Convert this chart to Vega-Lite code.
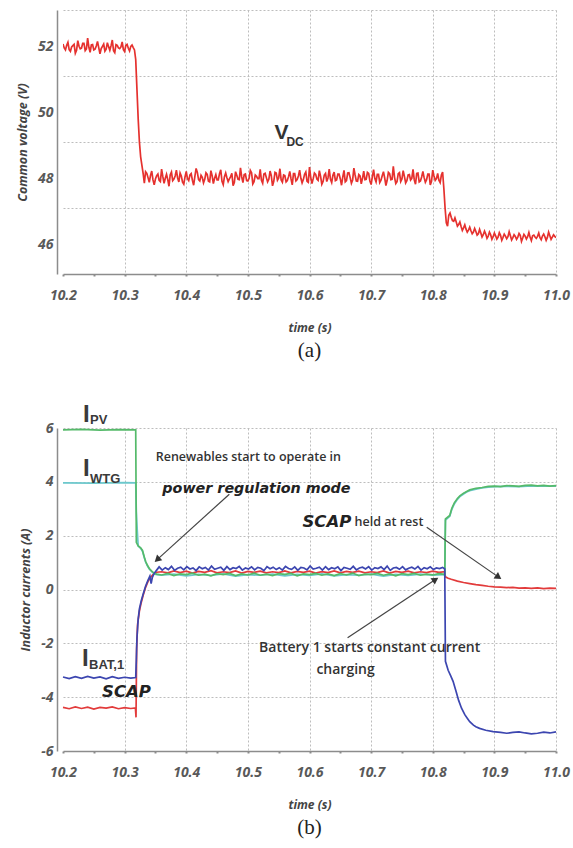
{
"$schema": "https://vega.github.io/schema/vega-lite/v6.json",
"background": "white",
"padding": {"left": 16, "top": 10, "right": 4, "bottom": 4},
"bounds": "flush",
"spacing": 154,
"config": {"view": {"stroke": null}},
"datasets": {
"vdc": [
{"t":10.200,"v":51.97},{"t":10.204,"v":51.79},{"t":10.208,"v":52.02},{"t":10.212,"v":51.75},{"t":10.216,"v":51.92},{"t":10.220,"v":51.69},{"t":10.224,"v":52.07},{"t":10.228,"v":51.82},{"t":10.232,"v":51.99},{"t":10.236,"v":51.77},{"t":10.240,"v":52.15},{"t":10.244,"v":51.72},{"t":10.248,"v":51.95},{"t":10.252,"v":51.81},{"t":10.256,"v":52.05},{"t":10.260,"v":51.67},{"t":10.264,"v":51.90},{"t":10.268,"v":51.75},{"t":10.272,"v":52.01},{"t":10.276,"v":51.78},{"t":10.280,"v":52.09},{"t":10.284,"v":51.71},{"t":10.288,"v":51.93},{"t":10.292,"v":51.83},{"t":10.296,"v":52.03},{"t":10.300,"v":51.74},{"t":10.304,"v":51.96},{"t":10.308,"v":51.76},{"t":10.312,"v":51.94},{"t":10.316,"v":51.79},
{"t":10.202,"v":51.85},{"t":10.206,"v":51.93},{"t":10.210,"v":51.80},{"t":10.214,"v":51.88},{"t":10.218,"v":51.96},{"t":10.222,"v":51.78},{"t":10.226,"v":51.90},{"t":10.230,"v":51.84},{"t":10.234,"v":51.99},{"t":10.238,"v":51.82},{"t":10.242,"v":51.87},{"t":10.246,"v":51.94},{"t":10.250,"v":51.79},{"t":10.254,"v":51.91},{"t":10.258,"v":51.86},{"t":10.262,"v":51.83},{"t":10.266,"v":51.97},{"t":10.270,"v":51.81},{"t":10.274,"v":51.89},{"t":10.278,"v":51.92},{"t":10.282,"v":51.77},{"t":10.286,"v":51.95},{"t":10.290,"v":51.85},{"t":10.294,"v":51.88},{"t":10.298,"v":51.80},{"t":10.302,"v":51.93},{"t":10.306,"v":51.84},{"t":10.310,"v":51.90},{"t":10.314,"v":51.86},
{"t":10.318,"v":51.5},{"t":10.320,"v":50.6},{"t":10.322,"v":49.7},{"t":10.324,"v":49.0},{"t":10.326,"v":48.55},{"t":10.328,"v":48.3},{"t":10.330,"v":48.05},{"t":10.332,"v":47.75},{"t":10.334,"v":48.1},
{"t":10.336,"v":48.05},{"t":10.340,"v":47.78},{"t":10.344,"v":48.12},{"t":10.348,"v":47.70},{"t":10.352,"v":47.98},{"t":10.356,"v":47.84},{"t":10.360,"v":48.18},{"t":10.364,"v":47.75},{"t":10.368,"v":48.02},{"t":10.372,"v":47.66},{"t":10.376,"v":48.09},{"t":10.380,"v":47.88},{"t":10.384,"v":48.15},{"t":10.388,"v":47.79},{"t":10.392,"v":47.97},{"t":10.396,"v":47.72},{"t":10.400,"v":48.11},{"t":10.404,"v":47.83},{"t":10.408,"v":48.04},{"t":10.412,"v":47.69},{"t":10.416,"v":48.20},{"t":10.420,"v":47.86},{"t":10.424,"v":47.99},{"t":10.428,"v":47.76},{"t":10.432,"v":48.07},{"t":10.436,"v":47.81},{"t":10.440,"v":48.13},{"t":10.444,"v":47.74},{"t":10.448,"v":48.01},{"t":10.452,"v":47.85},{"t":10.456,"v":48.16},{"t":10.460,"v":47.71},{"t":10.464,"v":48.06},{"t":10.468,"v":47.80},{"t":10.472,"v":47.95},{"t":10.476,"v":47.68},{"t":10.480,"v":48.10},{"t":10.484,"v":47.87},{"t":10.488,"v":48.22},{"t":10.492,"v":47.77},{"t":10.496,"v":48.03},{"t":10.500,"v":47.82},{"t":10.504,"v":48.14},{"t":10.508,"v":47.73},{"t":10.512,"v":48.00},{"t":10.516,"v":47.89},{"t":10.520,"v":48.17},{"t":10.524,"v":47.75},{"t":10.528,"v":48.05},{"t":10.532,"v":47.79},{"t":10.536,"v":48.12},{"t":10.540,"v":47.67},{"t":10.544,"v":48.08},{"t":10.548,"v":47.84},{"t":10.552,"v":48.19},{"t":10.556,"v":47.78},{"t":10.560,"v":47.98},{"t":10.564,"v":47.83},{"t":10.568,"v":48.11},{"t":10.572,"v":47.70},{"t":10.576,"v":48.04},{"t":10.580,"v":47.86},{"t":10.584,"v":48.15},{"t":10.588,"v":47.76},{"t":10.592,"v":48.02},{"t":10.596,"v":47.81},{"t":10.600,"v":48.24},{"t":10.604,"v":47.74},{"t":10.608,"v":48.06},{"t":10.612,"v":47.88},{"t":10.616,"v":48.13},{"t":10.620,"v":47.72},{"t":10.624,"v":48.00},{"t":10.628,"v":47.80},{"t":10.632,"v":48.18},{"t":10.636,"v":47.77},{"t":10.640,"v":48.09},{"t":10.644,"v":47.85},{"t":10.648,"v":48.03},{"t":10.652,"v":47.69},{"t":10.656,"v":48.14},{"t":10.660,"v":47.83},{"t":10.664,"v":48.07},{"t":10.668,"v":47.75},{"t":10.672,"v":48.21},{"t":10.676,"v":47.82},{"t":10.680,"v":48.01},{"t":10.684,"v":47.73},{"t":10.688,"v":48.12},{"t":10.692,"v":47.87},{"t":10.696,"v":48.05},{"t":10.700,"v":47.71},{"t":10.704,"v":48.16},{"t":10.708,"v":47.79},{"t":10.712,"v":48.02},{"t":10.716,"v":47.84},{"t":10.720,"v":48.10},{"t":10.724,"v":47.68},{"t":10.728,"v":48.08},{"t":10.732,"v":47.86},{"t":10.736,"v":48.26},{"t":10.740,"v":47.74},{"t":10.744,"v":48.04},{"t":10.748,"v":47.80},{"t":10.752,"v":48.13},{"t":10.756,"v":47.76},{"t":10.760,"v":48.00},{"t":10.764,"v":47.85},{"t":10.768,"v":48.17},{"t":10.772,"v":47.72},{"t":10.776,"v":48.06},{"t":10.780,"v":47.82},{"t":10.784,"v":48.11},{"t":10.788,"v":47.78},{"t":10.792,"v":48.03},{"t":10.796,"v":47.70},{"t":10.800,"v":48.15},{"t":10.804,"v":47.84},{"t":10.808,"v":48.05},{"t":10.812,"v":47.77},{"t":10.816,"v":48.09},
{"t":10.338,"v":47.92},{"t":10.342,"v":47.99},{"t":10.346,"v":47.85},{"t":10.350,"v":47.88},{"t":10.354,"v":48.03},{"t":10.358,"v":47.80},{"t":10.362,"v":47.95},{"t":10.366,"v":47.90},{"t":10.370,"v":47.86},{"t":10.374,"v":48.01},{"t":10.378,"v":47.83},{"t":10.382,"v":47.97},{"t":10.386,"v":47.91},{"t":10.390,"v":48.06},{"t":10.394,"v":47.78},{"t":10.398,"v":47.94},{"t":10.402,"v":47.89},{"t":10.406,"v":48.00},{"t":10.410,"v":47.84},{"t":10.414,"v":47.96},{"t":10.418,"v":48.08},{"t":10.422,"v":47.82},{"t":10.426,"v":47.93},{"t":10.430,"v":47.87},{"t":10.434,"v":48.02},{"t":10.438,"v":47.79},{"t":10.442,"v":47.98},{"t":10.446,"v":47.90},{"t":10.450,"v":47.85},{"t":10.454,"v":48.04},{"t":10.458,"v":47.81},{"t":10.462,"v":47.95},{"t":10.466,"v":47.92},{"t":10.470,"v":47.88},{"t":10.474,"v":48.05},{"t":10.478,"v":47.77},{"t":10.482,"v":47.99},{"t":10.486,"v":47.86},{"t":10.490,"v":47.94},{"t":10.494,"v":48.01},{"t":10.498,"v":47.83},{"t":10.502,"v":47.90},{"t":10.506,"v":48.07},{"t":10.510,"v":47.80},{"t":10.514,"v":47.96},{"t":10.518,"v":47.89},{"t":10.522,"v":47.84},{"t":10.526,"v":48.03},{"t":10.530,"v":47.92},{"t":10.534,"v":47.87},{"t":10.538,"v":47.98},{"t":10.542,"v":47.81},{"t":10.546,"v":48.06},{"t":10.550,"v":47.91},{"t":10.554,"v":47.85},{"t":10.558,"v":48.00},{"t":10.562,"v":47.79},{"t":10.566,"v":47.95},{"t":10.570,"v":47.88},{"t":10.574,"v":48.04},{"t":10.578,"v":47.82},{"t":10.582,"v":47.97},{"t":10.586,"v":47.90},{"t":10.590,"v":47.86},{"t":10.594,"v":48.09},{"t":10.598,"v":47.78},{"t":10.602,"v":47.93},{"t":10.606,"v":47.89},{"t":10.610,"v":48.02},{"t":10.614,"v":47.84},{"t":10.618,"v":47.96},{"t":10.622,"v":47.80},{"t":10.626,"v":48.05},{"t":10.630,"v":47.91},{"t":10.634,"v":47.87},{"t":10.638,"v":47.99},{"t":10.642,"v":47.83},{"t":10.646,"v":48.03},{"t":10.650,"v":47.88},{"t":10.654,"v":47.94},{"t":10.658,"v":47.79},{"t":10.662,"v":48.06},{"t":10.666,"v":47.92},{"t":10.670,"v":47.85},{"t":10.674,"v":48.00},{"t":10.678,"v":47.81},{"t":10.682,"v":47.97},{"t":10.686,"v":47.90},{"t":10.690,"v":47.86},{"t":10.694,"v":48.08},{"t":10.698,"v":47.82},{"t":10.702,"v":47.95},{"t":10.706,"v":47.89},{"t":10.710,"v":48.02},{"t":10.714,"v":47.77},{"t":10.718,"v":47.98},{"t":10.722,"v":47.91},{"t":10.726,"v":47.84},{"t":10.730,"v":48.04},{"t":10.734,"v":47.87},{"t":10.738,"v":47.93},{"t":10.742,"v":47.80},{"t":10.746,"v":48.07},{"t":10.750,"v":47.88},{"t":10.754,"v":47.96},{"t":10.758,"v":47.83},{"t":10.762,"v":48.01},{"t":10.766,"v":47.90},{"t":10.770,"v":47.85},{"t":10.774,"v":48.05},{"t":10.778,"v":47.79},{"t":10.782,"v":47.94},{"t":10.786,"v":47.92},{"t":10.790,"v":47.86},{"t":10.794,"v":48.03},{"t":10.798,"v":47.81},{"t":10.802,"v":47.97},{"t":10.806,"v":47.89},{"t":10.810,"v":47.84},{"t":10.814,"v":48.00},
{"t":10.818,"v":47.6},{"t":10.820,"v":47.0},{"t":10.822,"v":46.55},{"t":10.824,"v":46.45},{"t":10.826,"v":46.78},{"t":10.828,"v":46.85},{"t":10.832,"v":46.62},{"t":10.836,"v":46.70},{"t":10.840,"v":46.45},{"t":10.844,"v":46.58},{"t":10.848,"v":46.32},{"t":10.852,"v":46.49},{"t":10.856,"v":46.27},{"t":10.860,"v":46.42},{"t":10.864,"v":46.22},{"t":10.868,"v":46.38},{"t":10.872,"v":46.18},{"t":10.876,"v":46.35},{"t":10.880,"v":46.12},{"t":10.884,"v":46.30},{"t":10.888,"v":46.08},{"t":10.892,"v":46.27},{"t":10.896,"v":46.05},{"t":10.900,"v":46.24},{"t":10.904,"v":46.06},{"t":10.908,"v":46.25},{"t":10.912,"v":46.02},{"t":10.916,"v":46.21},{"t":10.920,"v":46.07},{"t":10.924,"v":46.28},{"t":10.928,"v":46.03},{"t":10.932,"v":46.19},{"t":10.936,"v":46.05},{"t":10.940,"v":46.23},{"t":10.944,"v":45.99},{"t":10.948,"v":46.20},{"t":10.952,"v":46.06},{"t":10.956,"v":46.26},{"t":10.960,"v":46.01},{"t":10.964,"v":46.18},{"t":10.968,"v":46.08},{"t":10.972,"v":46.24},{"t":10.976,"v":46.04},{"t":10.980,"v":46.21},{"t":10.984,"v":46.02},{"t":10.988,"v":46.27},{"t":10.992,"v":46.05},{"t":10.996,"v":46.19},{"t":11.000,"v":46.10},
{"t":10.830,"v":46.72},{"t":10.834,"v":46.60},{"t":10.838,"v":46.58},{"t":10.842,"v":46.50},{"t":10.846,"v":46.44},{"t":10.850,"v":46.40},{"t":10.854,"v":46.36},{"t":10.858,"v":46.33},{"t":10.862,"v":46.31},{"t":10.866,"v":46.27},{"t":10.870,"v":46.29},{"t":10.874,"v":46.22},{"t":10.878,"v":46.24},{"t":10.882,"v":46.19},{"t":10.886,"v":46.21},{"t":10.890,"v":46.15},{"t":10.894,"v":46.19},{"t":10.898,"v":46.13},{"t":10.902,"v":46.16},{"t":10.906,"v":46.12},{"t":10.910,"v":46.17},{"t":10.914,"v":46.11},{"t":10.918,"v":46.15},{"t":10.922,"v":46.13},{"t":10.926,"v":46.16},{"t":10.930,"v":46.10},{"t":10.934,"v":46.14},{"t":10.938,"v":46.12},{"t":10.942,"v":46.17},{"t":10.946,"v":46.09},{"t":10.950,"v":46.15},{"t":10.954,"v":46.13},{"t":10.958,"v":46.11},{"t":10.962,"v":46.16},{"t":10.966,"v":46.12},{"t":10.970,"v":46.14},{"t":10.974,"v":46.10},{"t":10.978,"v":46.15},{"t":10.982,"v":46.13},{"t":10.986,"v":46.11},{"t":10.990,"v":46.16},{"t":10.994,"v":46.12},{"t":10.998,"v":46.14}
],
"cur": [
{"s":"PV","t":10.2,"v":5.93},{"s":"PV","t":10.23,"v":5.95},{"s":"PV","t":10.26,"v":5.92},{"s":"PV","t":10.29,"v":5.94},{"s":"PV","t":10.318,"v":5.93},{"s":"PV","t":10.319,"v":1.75},{"s":"PV","t":10.322,"v":1.62},{"s":"PV","t":10.326,"v":1.55},{"s":"PV","t":10.329,"v":1.45},{"s":"PV","t":10.332,"v":1.2},{"s":"PV","t":10.334,"v":1.05},{"s":"PV","t":10.337,"v":0.9},{"s":"PV","t":10.34,"v":0.78},{"s":"PV","t":10.344,"v":0.68},{"s":"PV","t":10.348,"v":0.6},{"s":"PV","t":10.352,"v":0.57},
{"s":"PV","t":10.36,"v":0.54},{"s":"PV","t":10.37,"v":0.60},{"s":"PV","t":10.38,"v":0.52},{"s":"PV","t":10.39,"v":0.58},{"s":"PV","t":10.40,"v":0.55},{"s":"PV","t":10.41,"v":0.61},{"s":"PV","t":10.42,"v":0.53},{"s":"PV","t":10.43,"v":0.57},{"s":"PV","t":10.44,"v":0.51},{"s":"PV","t":10.45,"v":0.59},{"s":"PV","t":10.46,"v":0.55},{"s":"PV","t":10.47,"v":0.60},{"s":"PV","t":10.48,"v":0.52},{"s":"PV","t":10.49,"v":0.58},{"s":"PV","t":10.50,"v":0.54},{"s":"PV","t":10.51,"v":0.61},{"s":"PV","t":10.52,"v":0.53},{"s":"PV","t":10.53,"v":0.57},{"s":"PV","t":10.54,"v":0.52},{"s":"PV","t":10.55,"v":0.59},{"s":"PV","t":10.56,"v":0.56},{"s":"PV","t":10.57,"v":0.60},{"s":"PV","t":10.58,"v":0.51},{"s":"PV","t":10.59,"v":0.58},{"s":"PV","t":10.60,"v":0.55},{"s":"PV","t":10.61,"v":0.60},{"s":"PV","t":10.62,"v":0.53},{"s":"PV","t":10.63,"v":0.58},{"s":"PV","t":10.64,"v":0.52},{"s":"PV","t":10.65,"v":0.59},{"s":"PV","t":10.66,"v":0.54},{"s":"PV","t":10.67,"v":0.61},{"s":"PV","t":10.68,"v":0.52},{"s":"PV","t":10.69,"v":0.57},{"s":"PV","t":10.70,"v":0.55},{"s":"PV","t":10.71,"v":0.60},{"s":"PV","t":10.72,"v":0.53},{"s":"PV","t":10.73,"v":0.58},{"s":"PV","t":10.74,"v":0.51},{"s":"PV","t":10.75,"v":0.59},{"s":"PV","t":10.76,"v":0.55},{"s":"PV","t":10.77,"v":0.60},{"s":"PV","t":10.78,"v":0.53},{"s":"PV","t":10.79,"v":0.57},{"s":"PV","t":10.80,"v":0.54},{"s":"PV","t":10.81,"v":0.59},
{"s":"PV","t":10.8195,"v":0.56},{"s":"PV","t":10.8206,"v":2.62},{"s":"PV","t":10.8276,"v":2.75},{"s":"PV","t":10.831,"v":3.02},{"s":"PV","t":10.835,"v":3.22},{"s":"PV","t":10.84,"v":3.38},{"s":"PV","t":10.844,"v":3.48},{"s":"PV","t":10.85,"v":3.58},{"s":"PV","t":10.855,"v":3.64},{"s":"PV","t":10.86,"v":3.7},{"s":"PV","t":10.87,"v":3.76},{"s":"PV","t":10.88,"v":3.79},{"s":"PV","t":10.89,"v":3.83},{"s":"PV","t":10.9,"v":3.84},{"s":"PV","t":10.91,"v":3.82},{"s":"PV","t":10.92,"v":3.86},{"s":"PV","t":10.93,"v":3.85},{"s":"PV","t":10.94,"v":3.83},{"s":"PV","t":10.95,"v":3.87},{"s":"PV","t":10.96,"v":3.88},{"s":"PV","t":10.97,"v":3.85},{"s":"PV","t":10.98,"v":3.87},{"s":"PV","t":10.99,"v":3.84},{"s":"PV","t":11.0,"v":3.86},
{"s":"WTG","t":10.2,"v":3.96},{"s":"WTG","t":10.25,"v":3.95},{"s":"WTG","t":10.3,"v":3.97},{"s":"WTG","t":10.318,"v":3.96},{"s":"WTG","t":10.319,"v":2.9},{"s":"WTG","t":10.3205,"v":2.2},{"s":"WTG","t":10.322,"v":1.62},{"s":"WTG","t":10.326,"v":1.53},{"s":"WTG","t":10.329,"v":1.42},{"s":"WTG","t":10.332,"v":1.18},{"s":"WTG","t":10.334,"v":1.02},{"s":"WTG","t":10.337,"v":0.88},{"s":"WTG","t":10.34,"v":0.76},{"s":"WTG","t":10.344,"v":0.66},{"s":"WTG","t":10.348,"v":0.58},{"s":"WTG","t":10.352,"v":0.55},
{"s":"WTG","t":10.36,"v":0.53},{"s":"WTG","t":10.38,"v":0.57},{"s":"WTG","t":10.40,"v":0.51},{"s":"WTG","t":10.42,"v":0.56},{"s":"WTG","t":10.44,"v":0.52},{"s":"WTG","t":10.46,"v":0.58},{"s":"WTG","t":10.48,"v":0.50},{"s":"WTG","t":10.50,"v":0.55},{"s":"WTG","t":10.52,"v":0.53},{"s":"WTG","t":10.54,"v":0.57},{"s":"WTG","t":10.56,"v":0.51},{"s":"WTG","t":10.58,"v":0.56},{"s":"WTG","t":10.60,"v":0.52},{"s":"WTG","t":10.62,"v":0.58},{"s":"WTG","t":10.64,"v":0.51},{"s":"WTG","t":10.66,"v":0.55},{"s":"WTG","t":10.68,"v":0.53},{"s":"WTG","t":10.70,"v":0.57},{"s":"WTG","t":10.72,"v":0.50},{"s":"WTG","t":10.74,"v":0.56},{"s":"WTG","t":10.76,"v":0.52},{"s":"WTG","t":10.78,"v":0.57},{"s":"WTG","t":10.80,"v":0.53},
{"s":"WTG","t":10.8195,"v":0.55},{"s":"WTG","t":10.8206,"v":2.58},{"s":"WTG","t":10.8276,"v":2.72},{"s":"WTG","t":10.831,"v":2.98},{"s":"WTG","t":10.835,"v":3.18},{"s":"WTG","t":10.84,"v":3.35},{"s":"WTG","t":10.844,"v":3.45},{"s":"WTG","t":10.85,"v":3.55},{"s":"WTG","t":10.855,"v":3.62},{"s":"WTG","t":10.86,"v":3.67},{"s":"WTG","t":10.87,"v":3.73},{"s":"WTG","t":10.88,"v":3.77},{"s":"WTG","t":10.89,"v":3.8},{"s":"WTG","t":10.9,"v":3.82},{"s":"WTG","t":10.92,"v":3.83},{"s":"WTG","t":10.94,"v":3.82},{"s":"WTG","t":10.96,"v":3.85},{"s":"WTG","t":10.98,"v":3.84},{"s":"WTG","t":11.0,"v":3.84},
{"s":"SCAP","t":10.2,"v":-4.38},{"s":"SCAP","t":10.21,"v":-4.43},{"s":"SCAP","t":10.22,"v":-4.36},{"s":"SCAP","t":10.23,"v":-4.42},{"s":"SCAP","t":10.24,"v":-4.37},{"s":"SCAP","t":10.25,"v":-4.44},{"s":"SCAP","t":10.26,"v":-4.38},{"s":"SCAP","t":10.27,"v":-4.41},{"s":"SCAP","t":10.28,"v":-4.36},{"s":"SCAP","t":10.29,"v":-4.43},{"s":"SCAP","t":10.30,"v":-4.39},{"s":"SCAP","t":10.31,"v":-4.42},{"s":"SCAP","t":10.3175,"v":-4.4},{"s":"SCAP","t":10.3185,"v":-4.75},{"s":"SCAP","t":10.3195,"v":-2.2},{"s":"SCAP","t":10.321,"v":-1.3},{"s":"SCAP","t":10.324,"v":-0.8},{"s":"SCAP","t":10.327,"v":-0.48},{"s":"SCAP","t":10.33,"v":-0.22},{"s":"SCAP","t":10.334,"v":0.08},{"s":"SCAP","t":10.338,"v":0.3},{"s":"SCAP","t":10.342,"v":0.45},{"s":"SCAP","t":10.346,"v":0.55},{"s":"SCAP","t":10.352,"v":0.64},
{"s":"SCAP","t":10.36,"v":0.66},{"s":"SCAP","t":10.37,"v":0.62},{"s":"SCAP","t":10.38,"v":0.69},{"s":"SCAP","t":10.39,"v":0.63},{"s":"SCAP","t":10.40,"v":0.68},{"s":"SCAP","t":10.41,"v":0.61},{"s":"SCAP","t":10.42,"v":0.67},{"s":"SCAP","t":10.43,"v":0.64},{"s":"SCAP","t":10.44,"v":0.70},{"s":"SCAP","t":10.45,"v":0.62},{"s":"SCAP","t":10.46,"v":0.66},{"s":"SCAP","t":10.47,"v":0.63},{"s":"SCAP","t":10.48,"v":0.69},{"s":"SCAP","t":10.49,"v":0.61},{"s":"SCAP","t":10.50,"v":0.67},{"s":"SCAP","t":10.51,"v":0.64},{"s":"SCAP","t":10.52,"v":0.68},{"s":"SCAP","t":10.53,"v":0.62},{"s":"SCAP","t":10.54,"v":0.66},{"s":"SCAP","t":10.55,"v":0.63},{"s":"SCAP","t":10.56,"v":0.69},{"s":"SCAP","t":10.57,"v":0.62},{"s":"SCAP","t":10.58,"v":0.67},{"s":"SCAP","t":10.59,"v":0.64},{"s":"SCAP","t":10.60,"v":0.68},{"s":"SCAP","t":10.61,"v":0.61},{"s":"SCAP","t":10.62,"v":0.66},{"s":"SCAP","t":10.63,"v":0.63},{"s":"SCAP","t":10.64,"v":0.69},{"s":"SCAP","t":10.65,"v":0.62},{"s":"SCAP","t":10.66,"v":0.67},{"s":"SCAP","t":10.67,"v":0.64},{"s":"SCAP","t":10.68,"v":0.68},{"s":"SCAP","t":10.69,"v":0.62},{"s":"SCAP","t":10.70,"v":0.66},{"s":"SCAP","t":10.71,"v":0.63},{"s":"SCAP","t":10.72,"v":0.69},{"s":"SCAP","t":10.73,"v":0.61},{"s":"SCAP","t":10.74,"v":0.67},{"s":"SCAP","t":10.75,"v":0.64},{"s":"SCAP","t":10.76,"v":0.68},{"s":"SCAP","t":10.77,"v":0.62},{"s":"SCAP","t":10.78,"v":0.66},{"s":"SCAP","t":10.79,"v":0.63},{"s":"SCAP","t":10.80,"v":0.68},{"s":"SCAP","t":10.81,"v":0.64},
{"s":"SCAP","t":10.8195,"v":0.66},{"s":"SCAP","t":10.8205,"v":0.47},{"s":"SCAP","t":10.825,"v":0.42},{"s":"SCAP","t":10.83,"v":0.38},{"s":"SCAP","t":10.84,"v":0.31},{"s":"SCAP","t":10.85,"v":0.26},{"s":"SCAP","t":10.86,"v":0.22},{"s":"SCAP","t":10.87,"v":0.18},{"s":"SCAP","t":10.88,"v":0.15},{"s":"SCAP","t":10.89,"v":0.12},{"s":"SCAP","t":10.9,"v":0.1},{"s":"SCAP","t":10.91,"v":0.09},{"s":"SCAP","t":10.92,"v":0.07},{"s":"SCAP","t":10.93,"v":0.08},{"s":"SCAP","t":10.94,"v":0.05},{"s":"SCAP","t":10.95,"v":0.06},{"s":"SCAP","t":10.96,"v":0.04},{"s":"SCAP","t":10.97,"v":0.06},{"s":"SCAP","t":10.98,"v":0.03},{"s":"SCAP","t":10.99,"v":0.05},{"s":"SCAP","t":11.0,"v":0.04},
{"s":"BAT","t":10.2,"v":-3.25},{"s":"BAT","t":10.21,"v":-3.31},{"s":"BAT","t":10.22,"v":-3.24},{"s":"BAT","t":10.23,"v":-3.30},{"s":"BAT","t":10.24,"v":-3.23},{"s":"BAT","t":10.25,"v":-3.29},{"s":"BAT","t":10.26,"v":-3.25},{"s":"BAT","t":10.27,"v":-3.32},{"s":"BAT","t":10.28,"v":-3.24},{"s":"BAT","t":10.29,"v":-3.30},{"s":"BAT","t":10.30,"v":-3.26},{"s":"BAT","t":10.31,"v":-3.29},{"s":"BAT","t":10.318,"v":-3.27},
{"s":"BAT","t":10.319,"v":-2.6},{"s":"BAT","t":10.32,"v":-1.8},{"s":"BAT","t":10.322,"v":-1.1},{"s":"BAT","t":10.324,"v":-0.72},{"s":"BAT","t":10.327,"v":-0.42},{"s":"BAT","t":10.33,"v":-0.18},{"s":"BAT","t":10.334,"v":0.12},{"s":"BAT","t":10.338,"v":0.35},{"s":"BAT","t":10.341,"v":0.5},{"s":"BAT","t":10.343,"v":0.22},{"s":"BAT","t":10.345,"v":0.45},{"s":"BAT","t":10.348,"v":0.6},{"s":"BAT","t":10.352,"v":0.72},
{"s":"BAT","t":10.356,"v":0.84},{"s":"BAT","t":10.361,"v":0.72},{"s":"BAT","t":10.366,"v":0.81},{"s":"BAT","t":10.371,"v":0.74},{"s":"BAT","t":10.376,"v":0.86},{"s":"BAT","t":10.381,"v":0.71},{"s":"BAT","t":10.386,"v":0.79},{"s":"BAT","t":10.391,"v":0.83},{"s":"BAT","t":10.396,"v":0.73},{"s":"BAT","t":10.401,"v":0.85},{"s":"BAT","t":10.406,"v":0.76},{"s":"BAT","t":10.411,"v":0.80},{"s":"BAT","t":10.416,"v":0.70},{"s":"BAT","t":10.421,"v":0.84},{"s":"BAT","t":10.426,"v":0.77},{"s":"BAT","t":10.431,"v":0.82},{"s":"BAT","t":10.436,"v":0.72},{"s":"BAT","t":10.441,"v":0.87},{"s":"BAT","t":10.446,"v":0.75},{"s":"BAT","t":10.451,"v":0.79},{"s":"BAT","t":10.456,"v":0.83},{"s":"BAT","t":10.461,"v":0.71},{"s":"BAT","t":10.466,"v":0.85},{"s":"BAT","t":10.471,"v":0.74},{"s":"BAT","t":10.476,"v":0.81},{"s":"BAT","t":10.481,"v":0.78},{"s":"BAT","t":10.486,"v":0.86},{"s":"BAT","t":10.491,"v":0.72},{"s":"BAT","t":10.496,"v":0.80},{"s":"BAT","t":10.501,"v":0.76},{"s":"BAT","t":10.506,"v":0.84},{"s":"BAT","t":10.511,"v":0.73},{"s":"BAT","t":10.516,"v":0.82},{"s":"BAT","t":10.521,"v":0.79},{"s":"BAT","t":10.526,"v":0.70},{"s":"BAT","t":10.531,"v":0.85},{"s":"BAT","t":10.536,"v":0.77},{"s":"BAT","t":10.541,"v":0.83},{"s":"BAT","t":10.546,"v":0.74},{"s":"BAT","t":10.551,"v":0.81},{"s":"BAT","t":10.556,"v":0.72},{"s":"BAT","t":10.561,"v":0.86},{"s":"BAT","t":10.566,"v":0.78},{"s":"BAT","t":10.571,"v":0.75},{"s":"BAT","t":10.576,"v":0.84},{"s":"BAT","t":10.581,"v":0.71},{"s":"BAT","t":10.586,"v":0.82},{"s":"BAT","t":10.591,"v":0.80},{"s":"BAT","t":10.596,"v":0.73},{"s":"BAT","t":10.601,"v":0.87},{"s":"BAT","t":10.606,"v":0.76},{"s":"BAT","t":10.611,"v":0.79},{"s":"BAT","t":10.616,"v":0.83},{"s":"BAT","t":10.621,"v":0.72},{"s":"BAT","t":10.626,"v":0.85},{"s":"BAT","t":10.631,"v":0.74},{"s":"BAT","t":10.636,"v":0.81},{"s":"BAT","t":10.641,"v":0.77},{"s":"BAT","t":10.646,"v":0.84},{"s":"BAT","t":10.651,"v":0.70},{"s":"BAT","t":10.656,"v":0.82},{"s":"BAT","t":10.661,"v":0.79},{"s":"BAT","t":10.666,"v":0.75},{"s":"BAT","t":10.671,"v":0.86},{"s":"BAT","t":10.676,"v":0.73},{"s":"BAT","t":10.681,"v":0.80},{"s":"BAT","t":10.686,"v":0.83},{"s":"BAT","t":10.691,"v":0.76},{"s":"BAT","t":10.696,"v":0.85},{"s":"BAT","t":10.701,"v":0.72},{"s":"BAT","t":10.706,"v":0.81},{"s":"BAT","t":10.711,"v":0.78},{"s":"BAT","t":10.716,"v":0.84},{"s":"BAT","t":10.721,"v":0.74},{"s":"BAT","t":10.726,"v":0.87},{"s":"BAT","t":10.731,"v":0.71},{"s":"BAT","t":10.736,"v":0.80},{"s":"BAT","t":10.741,"v":0.82},{"s":"BAT","t":10.746,"v":0.75},{"s":"BAT","t":10.751,"v":0.85},{"s":"BAT","t":10.756,"v":0.73},{"s":"BAT","t":10.761,"v":0.79},{"s":"BAT","t":10.766,"v":0.83},{"s":"BAT","t":10.771,"v":0.76},{"s":"BAT","t":10.776,"v":0.86},{"s":"BAT","t":10.781,"v":0.72},{"s":"BAT","t":10.786,"v":0.81},{"s":"BAT","t":10.791,"v":0.77},{"s":"BAT","t":10.796,"v":0.84},{"s":"BAT","t":10.801,"v":0.74},{"s":"BAT","t":10.806,"v":0.80},{"s":"BAT","t":10.811,"v":0.78},{"s":"BAT","t":10.816,"v":0.82},
{"s":"BAT","t":10.8195,"v":0.76},{"s":"BAT","t":10.8206,"v":-2.67},{"s":"BAT","t":10.825,"v":-3.0},{"s":"BAT","t":10.829,"v":-3.2},{"s":"BAT","t":10.833,"v":-3.41},{"s":"BAT","t":10.838,"v":-3.8},{"s":"BAT","t":10.842,"v":-4.12},{"s":"BAT","t":10.8467,"v":-4.41},{"s":"BAT","t":10.852,"v":-4.65},{"s":"BAT","t":10.856,"v":-4.78},{"s":"BAT","t":10.86,"v":-4.91},{"s":"BAT","t":10.866,"v":-5.04},{"s":"BAT","t":10.87,"v":-5.1},{"s":"BAT","t":10.876,"v":-5.16},{"s":"BAT","t":10.886,"v":-5.23},{"s":"BAT","t":10.898,"v":-5.28},{"s":"BAT","t":10.91,"v":-5.31},{"s":"BAT","t":10.92,"v":-5.34},{"s":"BAT","t":10.93,"v":-5.31},{"s":"BAT","t":10.94,"v":-5.29},{"s":"BAT","t":10.95,"v":-5.33},{"s":"BAT","t":10.96,"v":-5.36},{"s":"BAT","t":10.97,"v":-5.34},{"s":"BAT","t":10.98,"v":-5.3},{"s":"BAT","t":10.99,"v":-5.33},{"s":"BAT","t":11.0,"v":-5.29}
]
},
"vconcat": [
{
"width": 493, "height": 264,
"title": {"text": "(a)", "orient": "bottom", "frame": "group", "anchor": "middle", "font": "Liberation Serif", "fontSize": 21, "fontWeight": "normal", "color": "#222222", "offset": 7},
"encoding": {
"x": {"field": "t", "type": "quantitative", "scale": {"domain": [10.2, 11.0], "nice": false, "zero": false},
"axis": {"values": [10.2,10.25,10.3,10.35,10.4,10.45,10.5,10.55,10.6,10.65,10.7,10.75,10.8,10.85,10.9,10.95,11.0],
"labelExpr": "abs(datum.value*10-round(datum.value*10))<0.01 ? format(datum.value,'.1f') : ''",
"title": "time (s)", "grid": true, "gridColor": "#bdbdbd", "gridDash": [2,2],
"gridOpacity": {"condition": {"test": "abs(datum.value*10-round(datum.value*10))<0.01 && datum.value>10.21", "value": 1}, "value": 0},
"domainColor": "#8c8c8c", "domainWidth": 1.5, "tickColor": "#8c8c8c", "tickSize": 2, "tickWidth": 2,
"labelPadding": 12, "labelFont": "Open Sans", "labelFontSize": 14, "labelFontStyle": "italic", "labelFontWeight": "bold", "labelColor": "#595959", "labelFlush": false, "labelOverlap": false,
"titleFont": "Open Sans", "titleFontSize": 12, "titleFontStyle": "italic", "titleFontWeight": "bold", "titleColor": "#444444", "titlePadding": 20}},
"y": {"field": "v", "type": "quantitative", "scale": {"domain": [45, 53], "nice": false, "zero": false},
"axis": {"values": [45,46,47,48,49,50,51,52,53],
"labelExpr": "datum.value % 2 == 0 ? '' + datum.value : ''",
"title": "Common voltage (V)", "offset": 6, "grid": true, "gridColor": "#bdbdbd", "gridDash": [2,2],
"gridOpacity": {"condition": {"test": "datum.value % 2 == 1 && datum.value > 45", "value": 1}, "value": 0},
"ticks": false, "tickSize": 0, "domainColor": "#8c8c8c", "domainWidth": 1.5,
"labelPadding": 4, "labelOffset": 3, "labelFont": "Open Sans", "labelFontSize": 14, "labelFontStyle": "italic", "labelFontWeight": "bold", "labelColor": "#595959",
"titleFont": "Open Sans", "titleFontSize": 12.5, "titleFontStyle": "italic", "titleFontWeight": "bold", "titleColor": "#444444", "titlePadding": 8}}
},
"layer": [
{"data": {"values": [{}]}, "mark": {"type": "rule", "color": "#9a9a9a", "strokeWidth": 1.5}, "encoding": {"x": {"datum": 10.2}, "y": {"datum": 45}, "y2": {"datum": 53}}},
{"data": {"name": "vdc"}, "mark": {"type": "line", "color": "#e5312e", "strokeWidth": 1.7, "clip": true}},
{"data": {"values": [{"t": 10.5431, "v": 49.26, "text": "V"}]}, "mark": {"type": "text", "align": "left", "baseline": "middle", "font": "Liberation Sans", "fontSize": 21, "fontWeight": "bold", "color": "#333333"}, "encoding": {"text": {"field": "text"}}},
{"data": {"values": [{"t": 10.5626, "v": 48.99, "text": "DC"}]}, "mark": {"type": "text", "align": "left", "baseline": "middle", "font": "Liberation Sans", "fontSize": 12, "fontWeight": "bold", "color": "#333333"}, "encoding": {"text": {"field": "text"}}}
]
},
{
"width": 493, "height": 323,
"title": {"text": "(b)", "orient": "bottom", "frame": "group", "anchor": "middle", "font": "Liberation Serif", "fontSize": 21, "fontWeight": "normal", "color": "#222222", "offset": 7},
"encoding": {
"x": {"field": "t", "type": "quantitative", "scale": {"domain": [10.2, 11.0], "nice": false, "zero": false},
"axis": {"values": [10.2,10.25,10.3,10.35,10.4,10.45,10.5,10.55,10.6,10.65,10.7,10.75,10.8,10.85,10.9,10.95,11.0],
"labelExpr": "abs(datum.value*10-round(datum.value*10))<0.01 ? format(datum.value,'.1f') : ''",
"title": "time (s)", "grid": true, "gridColor": "#bdbdbd", "gridDash": [2,2],
"gridOpacity": {"condition": {"test": "abs(datum.value*10-round(datum.value*10))<0.01 && datum.value>10.21", "value": 1}, "value": 0},
"domainColor": "#8c8c8c", "domainWidth": 1.5, "tickColor": "#8c8c8c", "tickSize": 2, "tickWidth": 2,
"labelPadding": 12, "labelFont": "Open Sans", "labelFontSize": 14, "labelFontStyle": "italic", "labelFontWeight": "bold", "labelColor": "#595959", "labelFlush": false, "labelOverlap": false,
"titleFont": "Open Sans", "titleFontSize": 12, "titleFontStyle": "italic", "titleFontWeight": "bold", "titleColor": "#444444", "titlePadding": 20}},
"y": {"field": "v", "type": "quantitative", "scale": {"domain": [-6, 6], "nice": false, "zero": false},
"axis": {"values": [-6,-4,-2,0,2,4,6],
"labelExpr": "'' + datum.value",
"title": "Inductor currents (A)", "offset": 6, "grid": true, "gridColor": "#bdbdbd", "gridDash": [2,2],
"gridOpacity": {"condition": {"test": "datum.value > -6", "value": 1}, "value": 0},
"ticks": false, "tickSize": 0, "domainColor": "#8c8c8c", "domainWidth": 1.5,
"labelPadding": 4, "labelFont": "Open Sans", "labelFontSize": 14, "labelFontStyle": "italic", "labelFontWeight": "bold", "labelColor": "#595959",
"titleFont": "Open Sans", "titleFontSize": 12.5, "titleFontStyle": "italic", "titleFontWeight": "bold", "titleColor": "#444444", "titlePadding": 8}}
},
"layer": [
{"data": {"values": [{}]}, "mark": {"type": "rule", "color": "#9a9a9a", "strokeWidth": 1.5}, "encoding": {"x": {"datum": 10.2}, "y": {"datum": -6}, "y2": {"datum": 6}}},
{"data": {"name": "cur"}, "transform": [{"filter": "datum.s == 'SCAP'"}], "mark": {"type": "line", "color": "#e23b3b", "strokeWidth": 1.7}},
{"data": {"name": "cur"}, "transform": [{"filter": "datum.s == 'WTG'"}], "mark": {"type": "line", "color": "#6cc8cc", "strokeWidth": 1.7}},
{"data": {"name": "cur"}, "transform": [{"filter": "datum.s == 'PV'"}], "mark": {"type": "line", "color": "#55ba6a", "strokeWidth": 1.7}},
{"data": {"name": "cur"}, "transform": [{"filter": "datum.s == 'BAT'"}], "mark": {"type": "line", "color": "#3c46b0", "strokeWidth": 1.7}},
{"data": {"values": [{"t": 10.7902, "v": 2.31, "t2": 10.9068, "v2": 0.46}, {"t": 10.4699, "v": 3.54, "t2": 10.3528, "v2": 1.11}, {"t": 10.6618, "v": -1.79, "t2": 10.8044, "v2": 0.37}]}, "mark": {"type": "rule", "color": "#444444", "strokeWidth": 1.2}, "encoding": {"x2": {"field": "t2"}, "y2": {"field": "v2"}}},
{"data": {"values": [{"t": 10.9068, "v": 0.46}]}, "mark": {"type": "point", "shape": "triangle-up", "filled": true, "size": 60, "angle": 124.7, "color": "#333333", "opacity": 1}},
{"data": {"values": [{"t": 10.3528, "v": 1.11}]}, "mark": {"type": "point", "shape": "triangle-up", "filled": true, "size": 60, "angle": 227.8, "color": "#333333", "opacity": 1}},
{"data": {"values": [{"t": 10.8044, "v": 0.37}]}, "mark": {"type": "point", "shape": "triangle-up", "filled": true, "size": 60, "angle": 56.6, "color": "#333333", "opacity": 1}},
{"data": {"values": [{"t": 10.5008, "v": 4.93, "text": "Renewables start to operate in"}]}, "mark": {"type": "text", "align": "center", "baseline": "middle", "font": "Open Sans", "fontSize": 12.5, "fontWeight": 600, "color": "#333333"}, "encoding": {"text": {"field": "text"}}},
{"data": {"values": [{"t": 10.5138, "v": 3.73, "text": "power regulation mode"}]}, "mark": {"type": "text", "align": "center", "baseline": "middle", "font": "DejaVu Sans", "fontSize": 14.3, "fontWeight": "bold", "fontStyle": "italic", "color": "#222222"}, "encoding": {"text": {"field": "text"}}},
{"data": {"values": [{"t": 10.5886, "v": 2.5, "text": "SCAP"}, {"t": 10.2634, "v": -3.81, "text": "SCAP"}]}, "mark": {"type": "text", "align": "left", "baseline": "middle", "font": "DejaVu Sans", "fontSize": 16.5, "fontWeight": "bold", "fontStyle": "italic", "color": "#222222"}, "encoding": {"text": {"field": "text"}}},
{"data": {"values": [{"t": 10.6732, "v": 2.5, "text": "held at rest"}]}, "mark": {"type": "text", "align": "left", "baseline": "middle", "font": "Open Sans", "fontSize": 12.5, "fontWeight": 600, "color": "#333333"}, "encoding": {"text": {"field": "text"}}},
{"data": {"values": [{"t": 10.6976, "v": -2.16, "text": "Battery 1 starts constant current"}, {"t": 10.6585, "v": -2.99, "text": "charging"}]}, "mark": {"type": "text", "align": "center", "baseline": "middle", "font": "Open Sans", "fontSize": 14, "fontWeight": 600, "color": "#333333"}, "encoding": {"text": {"field": "text"}}},
{"data": {"values": [{"t": 10.2325, "v": 6.5, "text": "I"}, {"t": 10.2325, "v": 4.48, "text": "I"}, {"t": 10.2309, "v": -2.57, "text": "I"}]}, "mark": {"type": "text", "align": "left", "baseline": "middle", "font": "Liberation Sans", "fontSize": 24, "fontWeight": "bold", "color": "#3a3a3a"}, "encoding": {"text": {"field": "text"}}},
{"data": {"values": [{"t": 10.2438, "v": 6.31, "text": "PV"}, {"t": 10.2438, "v": 4.12, "text": "WTG"}, {"t": 10.2422, "v": -2.8, "text": "BAT,1"}]}, "mark": {"type": "text", "align": "left", "baseline": "middle", "font": "Liberation Sans", "fontSize": 13, "fontWeight": "bold", "color": "#3a3a3a"}, "encoding": {"text": {"field": "text"}}}
]
}
]
}
